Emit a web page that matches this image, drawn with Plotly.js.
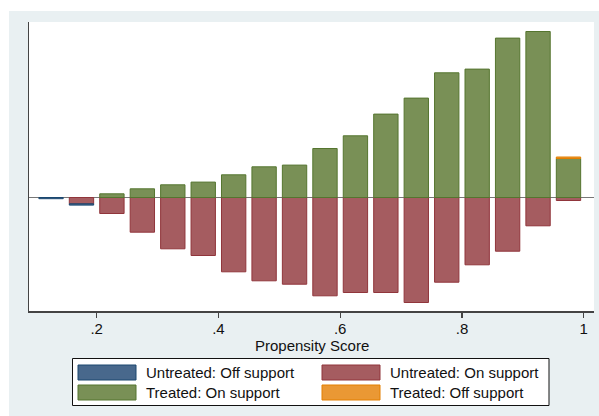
<!DOCTYPE html>
<html>
<head>
<meta charset="utf-8">
<script src="https://cdn.plot.ly/plotly-3.0.1.min.js"></script>
<style>html,body{margin:0;padding:0;background:#fff;}#chart{width:599px;height:416px;}</style>
</head>
<body>
<div id="chart"></div>
<script>
// Propensity score bin centres
const bins = [0.125, 0.175, 0.225, 0.275, 0.325, 0.375, 0.425, 0.475, 0.525,
              0.575, 0.625, 0.675, 0.725, 0.775, 0.825, 0.875, 0.925, 0.975];
// Frequencies (untreated drawn below zero)
const untreatedOff = [1.2, 1.3, 0, 0, 0, 0, 0, 0, 0, 0, 0, 0, 0, 0, 0, 0, 0, 0];
const untreatedOn  = [0, 6.3, 16, 34.7, 51.3, 58, 74.3, 83.3, 86.7, 98.3, 95, 95, 105, 84.7, 67.3, 53.7, 28.3, 3];
const treatedOn    = [0, 0, 3.7, 8.7, 12.7, 15.4, 22.7, 30.7, 32.4, 49, 61.7, 83.4, 99.4, 124.7, 128.4, 159.4, 166, 39];
const treatedOff   = [0, 0, 0, 0, 0, 0, 0, 0, 0, 0, 0, 0, 0, 0, 0, 0, 0, 1.5];
const seriesNames = ["Untreated: Off support", "Untreated: On support", "Treated: On support", "Treated: Off support"];
const tickVals = [0.2, 0.4, 0.6, 0.8, 1];
const tickText = [".2", ".4", ".6", ".8", "1"];
const xTitle = "Propensity Score";

const fills = ["rgb(72,104,140)", "rgb(165,92,96)", "rgb(121,144,86)", "rgb(234,152,52)"];
const lines = ["rgb(26,71,111)", "rgb(144,53,59)", "rgb(85,117,47)", "rgb(227,126,0)"];

const W = 599, H = 416, ML = 29, MR = 5, MT = 22, MB = 105;
const PW = W - ML - MR, PH = H - MT - MB;
const px = x => (x - ML) / PW;
const py = y => (H - MB - y) / PH;

function bar(vals, i, neg) {
  return {
    type: 'bar', x: bins, y: vals.map(v => v === 0 ? null : (neg ? -v : v)), width: 0.04,
    name: seriesNames[i], showlegend: false, hoverinfo: 'skip',
    marker: {color: fills[i], line: {color: lines[i], width: 1}}
  };
}
const data = [
  bar(untreatedOn, 1, true),
  bar(untreatedOff, 0, true),
  bar(treatedOn, 2, false),
  bar(treatedOff, 3, false)
];

const shapes = [
  {type: 'rect', xref: 'paper', yref: 'paper', x0: px(0), x1: px(9), y0: py(H), y1: py(0), fillcolor: '#ffffff', line: {width: 0}, layer: 'below'},
  {type: 'rect', xref: 'paper', yref: 'paper', x0: px(0), x1: px(W), y0: py(11), y1: py(0), fillcolor: '#ffffff', line: {width: 0}, layer: 'below'},
  {type: 'rect', xref: 'paper', yref: 'paper', x0: px(72.5), x1: px(549), y0: py(405.5), y1: py(358.5), fillcolor: '#ffffff', line: {color: '#111', width: 1}}
];
const annotations = [
  {xref: 'paper', yref: 'paper', x: 0.5, y: py(345), xanchor: 'center', yanchor: 'middle',
   text: xTitle, showarrow: false, font: {size: 15, color: '#111'}}
];
const legPos = [[78, 365], [322, 365], [78, 385], [322, 385]];
const legOrder = [0, 1, 2, 3];
legOrder.forEach((s, k) => {
  const [lx, ly] = legPos[k];
  shapes.push({type: 'rect', xref: 'paper', yref: 'paper', x0: px(lx), x1: px(lx + 58), y0: py(ly + 15), y1: py(ly),
               fillcolor: fills[s], line: {color: lines[s], width: 1}});
  annotations.push({xref: 'paper', yref: 'paper', x: px(lx + 66), y: py(ly + 7.5), xanchor: 'left', yanchor: 'middle',
                    text: seriesNames[s], showarrow: false, font: {size: 15, color: '#111'}});
});

const layout = {
  width: W, height: H,
  margin: {l: ML, r: MR, t: MT, b: MB, pad: 0},
  paper_bgcolor: '#e9f0f2', plot_bgcolor: '#ffffff',
  font: {family: 'Liberation Sans, Arial, sans-serif', size: 15, color: '#111'},
  barmode: 'relative', bargap: 0,
  showlegend: false,
  xaxis: {
    range: [0.0888, 1.0169], tickvals: tickVals, ticktext: tickText,
    ticks: 'outside', ticklen: 5, tickwidth: 1.2, tickcolor: '#444',
    showline: true, linecolor: '#444', linewidth: 1.5, showgrid: false, zeroline: false,
    tickfont: {size: 15, color: '#111'}, ticklabelstandoff: -2
  },
  yaxis: {
    range: [-113.5, 175.5], showticklabels: false, ticks: '', showgrid: false,
    showline: true, linecolor: '#444', linewidth: 1.5,
    zeroline: true, zerolinecolor: '#777', zerolinewidth: 1.5, layer: 'above traces'
  },
  shapes: shapes, annotations: annotations
};
Plotly.newPlot('chart', data, layout, {staticPlot: true});
</script>
</body>
</html>
